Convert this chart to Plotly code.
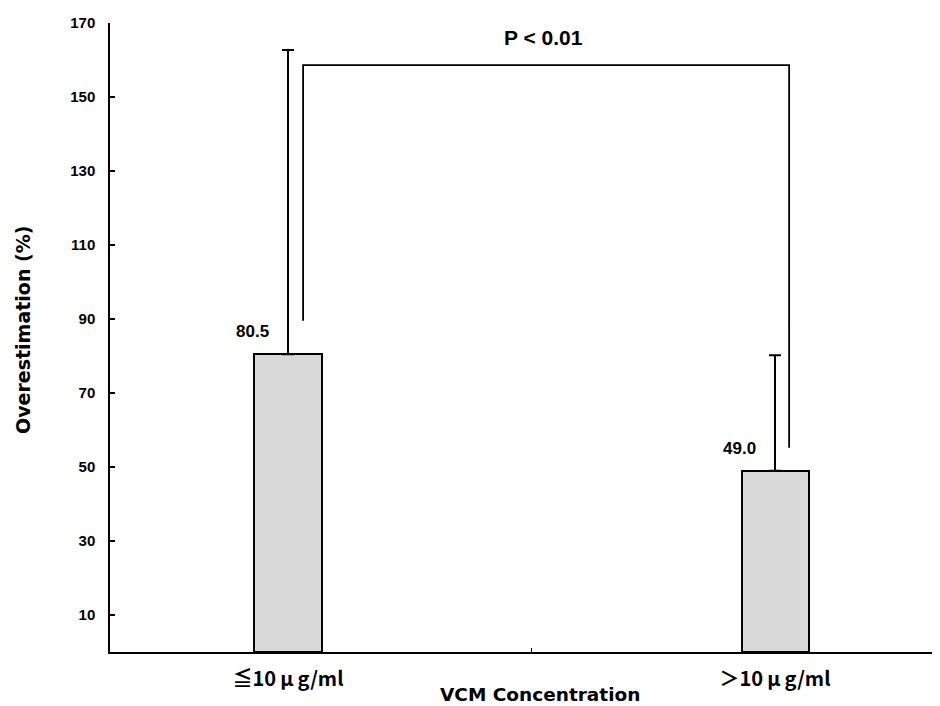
import plotly.graph_objects as go

# ---- data ----
categories = ["≦10\u2009μ\u2009g/ml", "＞10\u2009μ\u2009g/ml"]
means = [80.5, 49.0]
sd_upper = [82.2, 31.2]
mean_labels = ["80.5", "49.0"]
y_ticks = [10, 30, 50, 70, 90, 110, 130, 150, 170]
p_text = "P < 0.01"

# bracket (data coords)
bracket_left_x, bracket_right_x = 0.031, 1.029
bracket_top = 158.6
bracket_left_bottom = 89.5
bracket_right_bottom = 55.2

xpos = list(range(len(categories)))

TICK_FONT = "Liberation Sans, Arial, sans-serif"
TITLE_FONT = "DejaVu Sans, sans-serif"
CJK_FONT = "Noto Sans CJK JP, sans-serif"

fig = go.Figure()
fig.add_trace(go.Bar(
    x=xpos, y=means, width=0.1376,
    marker=dict(color="#d9d9d9", line=dict(color="black", width=2)),
    error_y=dict(type="data", symmetric=False, array=sd_upper,
                 arrayminus=[0] * len(means), color="black", thickness=2, width=6),
    showlegend=False, hoverinfo="skip",
))

# mean labels
for xi, m, lab in zip(xpos, means, mean_labels):
    fig.add_annotation(x=xi, y=m, text=f"<b>{lab}</b>", showarrow=False,
                       xanchor="center", yanchor="bottom", xshift=-36, yshift=11,
                       font=dict(family=TICK_FONT, size=17, color="black"))

# significance bracket
fig.add_shape(type="path",
              path=(f"M {bracket_left_x} {bracket_left_bottom} L {bracket_left_x} {bracket_top} "
                    f"L {bracket_right_x} {bracket_top} L {bracket_right_x} {bracket_right_bottom}"),
              xref="x", yref="y", line=dict(color="black", width=1.8))

fig.add_annotation(x=0.5217, y=0.9777, xref="paper", yref="paper", text=f"<b>{p_text}</b>",
                   showarrow=False, xanchor="center", yanchor="middle",
                   font=dict(family=TICK_FONT, size=21, color="black"))

# axis titles
fig.add_annotation(x=-0.1048, y=0.512, xref="paper", yref="paper",
                   text="<b>Overestimation (%)</b>", textangle=-90, showarrow=False,
                   xanchor="center", yanchor="middle",
                   font=dict(family=TITLE_FONT, size=19, color="black"))
fig.add_annotation(x=0.518, y=-0.0668, xref="paper", yref="paper",
                   text="<b>VCM Concentration</b>", showarrow=False,
                   xanchor="center", yanchor="middle",
                   font=dict(family=TITLE_FONT, size=18.5, color="black"))

# page body has an 8px margin: figure is 932x698 drawn at (8,8)
fig.update_layout(
    width=932, height=698,
    margin=dict(l=102, r=0, t=15, b=54),
    plot_bgcolor="white", paper_bgcolor="white",
    bargap=0,
    xaxis=dict(range=[-0.3655, 1.3388], showline=True, linecolor="black", linewidth=1.5,
               showgrid=False, zeroline=False,
               tickmode="array", tickvals=xpos,
               ticktext=[f"<b>{c}</b>" for c in categories], ticks="",
               ticklabelstandoff=8,
               tickfont=dict(family=CJK_FONT, size=20, color="black"),
               minor=dict(tickmode="array", tickvals=[0.5], ticks="inside",
                          ticklen=4, tickwidth=1, tickcolor="black")),
    yaxis=dict(range=[0, 170], showline=True, linecolor="black", linewidth=1.5,
               showgrid=False, zeroline=False,
               tickmode="array", tickvals=y_ticks,
               ticktext=[f"<b>{v}</b>" for v in y_ticks],
               ticks="inside", ticklen=5, tickwidth=1.5, tickcolor="black",
               ticklabelstandoff=10,
               tickfont=dict(family=TICK_FONT, size=15, color="black")),
)

fig.write_html("out.html")
